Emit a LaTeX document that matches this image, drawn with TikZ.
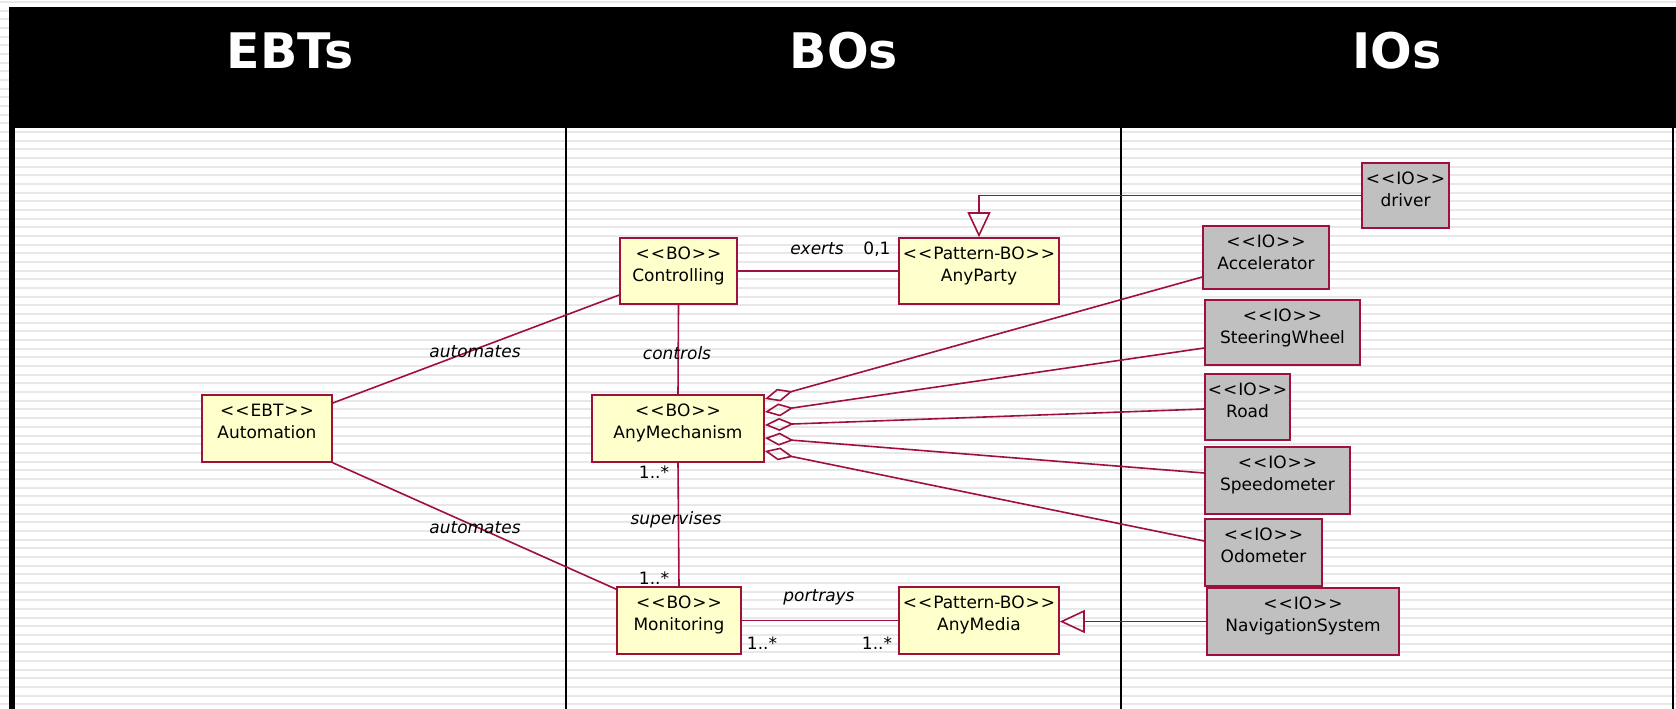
\documentclass[tikz,border=0pt]{standalone}
\usepackage{fontspec}
\usetikzlibrary{arrows.meta}
\newfontfamily\umlfont{DejaVu Sans}
\definecolor{umlred}{RGB}{160,16,60}
\definecolor{bofill}{RGB}{255,255,204}
\definecolor{iofill}{RGB}{192,192,192}
\definecolor{rulegray}{RGB}{232,232,232}
\newcommand{\umlbox}[4]{\parbox[t][#2pt][t]{#1pt}{\centering
   \fontsize{17}{22}\selectfont\rule{0pt}{21pt}<\kern1pt<\kern1pt#3\kern1pt>\kern1pt>\\#4}}
\tikzset{
   umlbox/.style={draw=umlred,line width=1.6pt,inner sep=0pt,font=\umlfont},
   bobox/.style={umlbox,fill=bofill},
   iobox/.style={umlbox,fill=iofill},
   assoc/.style={umlred,line width=1.6pt},
   aggr/.style={assoc,{Diamond[open,length=29pt,width=13pt]}-},
   gener/.style={assoc,-{Triangle[open,length=25pt,width=23pt]}},
   role/.style={inner sep=0pt,font=\umlfont\itshape\fontsize{17}{20}\selectfont},
   mult/.style={inner sep=0pt,font=\umlfont\fontsize{17}{20}\selectfont},
   colhead/.style={inner sep=0pt,text=white,font=\umlfont\bfseries\fontsize{49}{55}\selectfont}
}
\begin{document}
\begin{tikzpicture}[x=1pt,y=-1pt]
   \useasboundingbox (0,0) rectangle (1676,709);
   \fill[white] (0,0) rectangle (1676,709);
   \foreach \k in {0,...,81}
      \draw[rulegray,line width=2pt] (0,{2+8.67*\k}) -- (1676,{2+8.67*\k});
   \fill[black] (9,7) rectangle (1676,128);
   \fill[black] (9,7) rectangle (15,709);
   \draw[line width=1.5pt] (1673,128) -- (1673,709);
   \draw[line width=2.5pt] (566,128) -- (566,709);
   \draw[line width=2.5pt] (1121,128) -- (1121,709);

   \path (290,51) node[colhead] (ebts) {EBTs};
   \path (844,51) node[colhead] (bos) {BOs};
   \path (1397,51) node[colhead] (ios) {IOs};

   \path (267,428.5) node[bobox] (auto) {\umlbox{130}{67}{EBT}{Automation}};
   \path (678.5,271) node[bobox] (ctrl) {\umlbox{117}{66}{BO}{Controlling}};
   \path (979,271) node[bobox] (party) {\umlbox{160}{66}{Pattern-BO}{AnyParty}};
   \path (678,428.5) node[bobox] (mech) {\umlbox{172}{67}{BO}{AnyMechanism}};
   \path (679,620.5) node[bobox] (mon) {\umlbox{124}{67}{BO}{Monitoring}};
   \path (979,620.5) node[bobox] (media) {\umlbox{160}{67}{Pattern-BO}{AnyMedia}};

   \path (1405.5,195.5) node[iobox] (driver) {\umlbox{87}{65}{IO}{driver}};
   \path (1266,257.5) node[iobox] (acc) {\umlbox{126}{63}{IO}{Accelerator}};
   \path (1282.5,332.5) node[iobox] (steer) {\umlbox{155}{65}{IO}{SteeringWheel}};
   \path (1247.5,407) node[iobox] (road) {\umlbox{85}{66}{IO}{Road}};
   \path (1277.5,480.5) node[iobox] (speedo) {\umlbox{145}{67}{IO}{Speedometer}};
   \path (1263.5,552.5) node[iobox] (odo) {\umlbox{117}{67}{IO}{Odometer}};
   \path (1303,621.5) node[iobox] (nav) {\umlbox{192}{67}{IO}{NavigationSystem}};

   \draw[assoc] ([yshift=25.5pt]auto.east) -- ([yshift=-24pt]ctrl.west);
   \draw[assoc] (auto.south east) -- ([yshift=-3pt]mon.north west);
   \draw[assoc] (ctrl.east) -- (party.west);
   \draw[assoc] (ctrl.south) -- (mech.north);
   \draw[assoc] (mech.south) -- (mon.north);
   \draw[assoc] (mon.east) -- (media.west);
   \draw[gener] (driver.west) -| (party.north);
   \draw[gener] (nav.west) -- (nav.west -| media.east);

   \draw[aggr] ([yshift=29.5pt]mech.east) -- ([yshift=-19.5pt]acc.west);
   \draw[aggr] ([yshift=16.5pt]mech.east) -- ([yshift=-15.5pt]steer.west);
   \draw[aggr] ([yshift=3.5pt]mech.east) -- ([yshift=-2pt]road.west);
   \draw[aggr] ([yshift=-9.5pt]mech.east) -- ([yshift=7.5pt]speedo.west);
   \draw[aggr] ([yshift=-22.5pt]mech.east) -- ([yshift=11.5pt]odo.west);

   \path (475,352) node[role] (aut1) {automates};
   \path (475,528) node[role] (aut2) {automates};
   \path (817,249) node[role] (exerts) {exerts};
   \path (877,249) node[mult] (m01) {0,1};
   \path (677,353) node[role] (controls) {controls};
   \path (654,472) node[mult] (mmech) {1..*};
   \path (676,520) node[role] (superv) {supervises};
   \path (654,578) node[mult] (mmon) {1..*};
   \path (819,597) node[role] (portrays) {portrays};
   \path (762,643) node[mult] (mmon2) {1..*};
   \path (877,643) node[mult] (mmedia) {1..*};
\end{tikzpicture}
\end{document}
